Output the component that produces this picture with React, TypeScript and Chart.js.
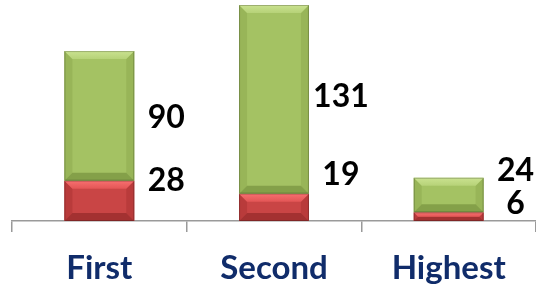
import React, { useEffect, useRef } from "react";
import { Chart, registerables } from "chart.js";

Chart.register(...registerables);

const categories = ["First", "Second", "Highest"];
const redValues = [28, 19, 6];
const greenValues = [90, 131, 24];
// value-axis positions where each value label sits
const redLabelAt = [27.8, 32, 11.8];
const greenLabelAt = [72, 86, 34.7];

const bevelStyles = [
  { body: "#C94545", topA: "#F77070", topB: "#E35656", side: "#B93B3B", bottom: "#A33131" },
  { body: "#A4C263", topA: "#CAE290", topB: "#B6D278", side: "#98B558", bottom: "#84A049" },
];

const bevelPlugin = {
  id: "bevel",
  afterDatasetsDraw(chart: any) {
    const ctx = chart.ctx;
    chart.data.datasets.forEach((_ds: any, di: number) => {
      const st = bevelStyles[di];
      const meta = chart.getDatasetMeta(di);
      meta.data.forEach((bar: any) => {
        const p = bar.getProps(["x", "y", "base", "width"], true);
        const left = p.x - p.width / 2;
        const right = p.x + p.width / 2;
        const top = Math.min(p.y, p.base);
        const bottom = Math.max(p.y, p.base);
        const h = bottom - top;
        const b = Math.min(8, h / 2, p.width / 2);
        ctx.save();
        const poly = (pts: number[][], fill: any) => {
          ctx.beginPath();
          ctx.moveTo(pts[0][0], pts[0][1]);
          for (let i = 1; i < pts.length; i++) ctx.lineTo(pts[i][0], pts[i][1]);
          ctx.closePath();
          ctx.fillStyle = fill;
          ctx.fill();
        };
        poly([[left, top], [left + b, top + b], [left + b, bottom - b], [left, bottom]], st.side);
        poly([[right, top], [right - b, top + b], [right - b, bottom - b], [right, bottom]], st.side);
        poly([[left, bottom], [right, bottom], [right - b, bottom - b], [left + b, bottom - b]], st.bottom);
        const g = ctx.createLinearGradient(0, top, 0, top + b);
        g.addColorStop(0, st.topA);
        g.addColorStop(1, st.topB);
        poly([[left, top], [right, top], [right - b, top + b], [left + b, top + b]], g);
        ctx.strokeStyle = "rgba(0,0,0,0.22)";
        ctx.lineWidth = 1;
        ctx.strokeRect(left + 0.5, top + 0.5, p.width - 1, h - 1);
        ctx.restore();
      });
    });
  },
};

const labelPlugin = {
  id: "valueLabels",
  afterDatasetsDraw(chart: any) {
    const ctx = chart.ctx;
    const yScale = chart.scales.y;
    const positions = [redLabelAt, greenLabelAt];
    ctx.save();
    ctx.font = "bold 32px Lato";
    ctx.fillStyle = "#000000";
    ctx.textAlign = "center";
    ctx.textBaseline = "middle";
    chart.data.datasets.forEach((ds: any, di: number) => {
      const meta = chart.getDatasetMeta(di);
      meta.data.forEach((bar: any, i: number) => {
        const p = bar.getProps(["x", "width"], true);
        const x = p.x + p.width / 2 + 32;
        const y = yScale.getPixelForValue(positions[di][i]);
        ctx.fillText(String(ds.data[i]), x, y);
      });
    });
    ctx.restore();
  },
};

export default function App() {
  const ref = useRef<HTMLCanvasElement>(null);
  useEffect(() => {
    if (!ref.current) return;
    const chart = new Chart(ref.current, {
      type: "bar",
      data: {
        labels: categories,
        datasets: [
          { label: "Red", data: redValues, backgroundColor: bevelStyles[0].body, barPercentage: 0.4, categoryPercentage: 1 },
          { label: "Green", data: greenValues, backgroundColor: bevelStyles[1].body, barPercentage: 0.4, categoryPercentage: 1 },
        ],
      },
      options: {
        responsive: false,
        animation: false,
        devicePixelRatio: 1,
        layout: { padding: { left: 12, top: 5, right: 0, bottom: 0 } },
        plugins: { legend: { display: false }, tooltip: { enabled: false } },
        scales: {
          x: {
            stacked: true,
            grid: { offset: true, drawOnChartArea: false, tickLength: 11, color: "#9a9a9a", lineWidth: 1.5 },
            border: { color: "#9a9a9a", width: 1.5 },
            ticks: { font: { family: "Lato", weight: "bold", size: 33 }, color: "#102C6A", padding: 17 },
            afterFit: (s: any) => { s.height = 70; },
          },
          y: { stacked: true, display: false, min: 0, max: 150 },
        },
      },
      plugins: [bevelPlugin, labelPlugin],
    });
    return () => chart.destroy();
  }, []);
  return (
    <div style={{ position: "fixed", left: 0, top: 0, width: 536, height: 291 }}>
      <canvas ref={ref} width={536} height={291} />
    </div>
  );
}
